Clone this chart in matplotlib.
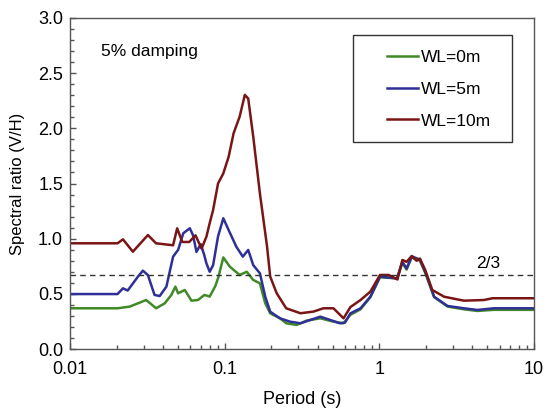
"""Spectral ratio (V/H) vs period for three water levels."""

import matplotlib

matplotlib.use("Agg")
import matplotlib.pyplot as plt
from matplotlib.patches import Rectangle
from matplotlib.ticker import FixedLocator, LogLocator, MultipleLocator, NullFormatter

plt.rcParams["font.family"] = ["Liberation Sans", "DejaVu Sans"]

# --- data ------------------------------------------------------------------
period_0m = [0.01, 0.0203, 0.0243, 0.0282, 0.031, 0.033, 0.036, 0.041, 0.0452,
             0.048, 0.050, 0.0552, 0.061, 0.0672, 0.074, 0.08, 0.087, 0.091,
             0.098, 0.108, 0.125, 0.139, 0.153, 0.169, 0.183, 0.197, 0.228,
             0.25, 0.292, 0.34, 0.415, 0.505, 0.587, 0.65, 0.756, 0.875, 1.01,
             1.3, 1.41, 1.5, 1.62, 1.83, 1.98, 2.26, 2.76, 3.52, 4.3, 5.5, 10]
ratio_0m = [0.369, 0.369, 0.384, 0.42, 0.444, 0.414, 0.369, 0.414, 0.49,
            0.565, 0.505, 0.535, 0.438, 0.444, 0.49, 0.475, 0.57, 0.65,
            0.83, 0.746, 0.671, 0.70, 0.626, 0.595, 0.414, 0.323, 0.278,
            0.233, 0.218, 0.258, 0.278, 0.248, 0.233, 0.31, 0.36, 0.47, 0.65,
            0.64, 0.78, 0.72, 0.83, 0.80, 0.69, 0.47, 0.385, 0.36, 0.345, 0.355, 0.355]

period_5m = [0.01, 0.0203, 0.022, 0.0236, 0.0275, 0.0296, 0.0319, 0.0352, 0.038,
             0.042, 0.0464, 0.05, 0.054, 0.0595, 0.0625, 0.0657, 0.07, 0.0735,
             0.0762, 0.08, 0.0842, 0.0906, 0.098, 0.106, 0.119, 0.131, 0.142,
             0.153, 0.169, 0.183, 0.197, 0.228, 0.264, 0.309, 0.358, 0.415,
             0.482, 0.557, 0.6, 0.65, 0.756, 0.875, 1.01, 1.3, 1.41, 1.5, 1.62,
             1.83, 1.98, 2.26, 2.76, 3.52, 4.3, 5.5, 10]
ratio_5m = [0.498, 0.498, 0.55, 0.53, 0.656, 0.71, 0.67, 0.49, 0.48,
            0.565, 0.837, 0.898, 1.049, 1.094, 1.03, 0.88, 0.95, 0.86,
            0.777, 0.70, 0.76, 1.02, 1.185, 1.079, 0.927, 0.837, 0.898,
            0.76, 0.686, 0.474, 0.338, 0.278, 0.248, 0.233, 0.263, 0.293,
            0.263, 0.233, 0.24, 0.323, 0.369, 0.474, 0.656, 0.64, 0.79, 0.73, 0.84,
            0.81, 0.70, 0.474, 0.39, 0.369, 0.354, 0.369, 0.369]

period_10m = [0.01, 0.0203, 0.022, 0.0255, 0.0319, 0.036, 0.0464, 0.0493, 0.0532,
              0.059, 0.0648, 0.0709, 0.0762, 0.08, 0.0842, 0.0906, 0.0979, 0.106,
              0.1142, 0.125, 0.135, 0.142, 0.153, 0.169, 0.188, 0.197, 0.217,
              0.25, 0.309, 0.375, 0.435, 0.505, 0.587, 0.65, 0.756, 0.875, 1.01,
              1.15, 1.31, 1.41, 1.5, 1.62, 1.74, 1.83, 1.98, 2.2, 2.62, 3.52,
              4.74, 5.4, 10]
ratio_10m = [0.958, 0.958, 0.994, 0.882, 1.033, 0.958, 0.94, 1.094, 0.97,
             0.97, 1.03, 0.91, 1.018, 1.14, 1.26, 1.50, 1.59, 1.74,
             1.955, 2.106, 2.303, 2.27, 1.925, 1.41, 0.927, 0.656, 0.505,
             0.369, 0.324, 0.339, 0.369, 0.369, 0.278, 0.38, 0.444, 0.52, 0.671,
             0.671, 0.63, 0.807, 0.79, 0.843, 0.80, 0.82, 0.716, 0.535, 0.474, 0.438,
             0.444, 0.46, 0.46]

series = [
    ("WL=0m", period_0m, ratio_0m, "#3f8a25"),
    ("WL=5m", period_5m, ratio_5m, "#2f2f98"),
    ("WL=10m", period_10m, ratio_10m, "#7a1515"),
]
reference_ratio = 2 / 3

# --- figure -----------------------------------------------------------------
fig = plt.figure(figsize=(5.49, 4.09), dpi=100)
ax = fig.add_axes([70 / 549, 60 / 409, 464 / 549, 331 / 409])

for label, x, y, color in series:
    ax.plot(x, y, color=color, linewidth=1.8, label=label)

ax.axhline(reference_ratio, color="#333333", linewidth=1.0, dashes=(4, 3))
ax.text(4.25, reference_ratio + 0.04, "2/3", fontsize=12.5, ha="left", va="bottom")
ax.text(0.0159, 2.70, "5% damping", fontsize=12.5, ha="left", va="center")

ax.set_xscale("log")
ax.set_xlim(0.01, 10)
ax.set_ylim(0, 3)
ax.xaxis.set_major_locator(FixedLocator([0.01, 0.1, 1, 10]))
ax.set_xticklabels(["0.01", "0.1", "1", "10"])
ax.xaxis.set_minor_locator(LogLocator(base=10, subs=range(2, 10)))
ax.xaxis.set_minor_formatter(NullFormatter())
ax.yaxis.set_major_locator(MultipleLocator(0.5))
ax.yaxis.set_minor_locator(MultipleLocator(0.1))
ax.yaxis.set_major_formatter(plt.FormatStrFormatter("%.1f"))

ax.tick_params(which="both", direction="in", labelsize=13, color="#555555",
               top=False, right=False)
ax.tick_params(which="major", length=4.5, width=1.0)
ax.tick_params(which="minor", length=2.8, width=1.0)
ax.tick_params(axis="x", which="major", pad=9)
ax.tick_params(axis="y", which="major", pad=5)
for spine in ax.spines.values():
    spine.set_color("#555555")
    spine.set_linewidth(1.0)

ax.set_xlabel("Period (s)", fontsize=13, labelpad=9)
ax.set_ylabel("Spectral ratio (V/H)", fontsize=12, labelpad=9)

# legend frame drawn separately so the padding matches the reference
ax.add_patch(Rectangle((0.61, 0.625), 0.3426, 0.3236, transform=ax.transAxes,
                       facecolor="white", edgecolor="#333333", linewidth=1.0,
                       zorder=4))
leg = ax.legend(loc="upper left", bbox_to_anchor=(0.6825, 0.903), frameon=False,
                fontsize=12.5, handlelength=1.8, handletextpad=0.2,
                labelspacing=0.95, borderpad=0, borderaxespad=0)
leg.set_zorder(5)

fig.savefig("out.png", dpi=100)
